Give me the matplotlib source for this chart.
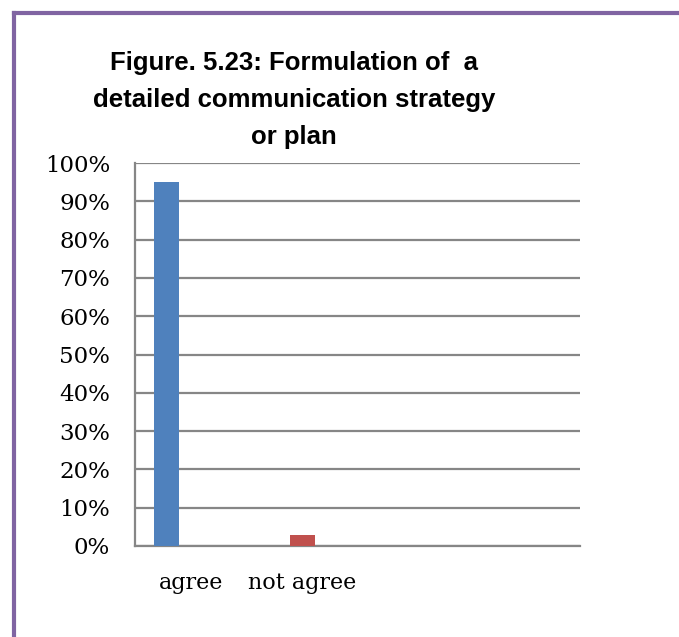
import matplotlib
matplotlib.use("Agg")
import matplotlib.pyplot as plt
from matplotlib.lines import Line2D
from matplotlib.ticker import FuncFormatter

categories = ["agree", "not agree"]
values = [95, 3]
bar_colors = ["#4F81BD", "#C0504D"]
y_ticks = [0, 10, 20, 30, 40, 50, 60, 70, 80, 90, 100]
title_lines = ["Figure. 5.23: Formulation of  a",
               "detailed communication strategy",
               "or plan"]

W, H, DPI = 679, 637, 100
fig = plt.figure(figsize=(W / DPI, H / DPI), dpi=DPI)

# plot area in pixel coordinates
left, right, top, bottom = 135, 580, 163, 546
ax = fig.add_axes([left / W, 1 - bottom / H, (right - left) / W, (bottom - top) / H])

x = list(range(len(categories)))
ax.bar(x, values, width=0.184, color=bar_colors, zorder=3)

ax.set_xlim(-0.232, 3.04)
ax.set_ylim(0, 100)
ax.set_yticks(y_ticks)
ax.yaxis.set_major_formatter(FuncFormatter(lambda v, p: f"{int(v)}%"))
ax.grid(axis="y", color="#868686", linewidth=1.6, zorder=0)
ax.set_axisbelow(True)

for s in ["top", "right"]:
    ax.spines[s].set_visible(False)
for s in ["left", "bottom"]:
    ax.spines[s].set_color("#868686")
    ax.spines[s].set_linewidth(1.6)

serif = "DejaVu Serif"
label_shift = [0.18, 0.0]
ax.set_xticks([xi + d for xi, d in zip(x, label_shift)])
ax.set_xticklabels(categories, fontfamily=serif, fontsize=16)
ax.tick_params(axis="x", length=0, pad=19)
ax.tick_params(axis="y", length=0, pad=18)
for t in ax.get_yticklabels():
    t.set_fontfamily(serif)
    t.set_fontsize(16.5)

# title block
for i, line in enumerate(title_lines):
    fig.text(294 / W, 1 - (63 + 37 * i) / H, line, ha="center", va="center",
             fontfamily="Liberation Sans", fontweight="bold", fontsize=18.5)

# frame around the chart
purple = "#8064A2"
fig.add_artist(Line2D([14 / W, 1.0], [1 - 13 / H, 1 - 13 / H], color=purple,
                      linewidth=3, transform=fig.transFigure))
fig.add_artist(Line2D([14 / W, 14 / W], [0, 1 - 13 / H], color=purple,
                      linewidth=3, transform=fig.transFigure))

fig.savefig("out.png", dpi=DPI)
